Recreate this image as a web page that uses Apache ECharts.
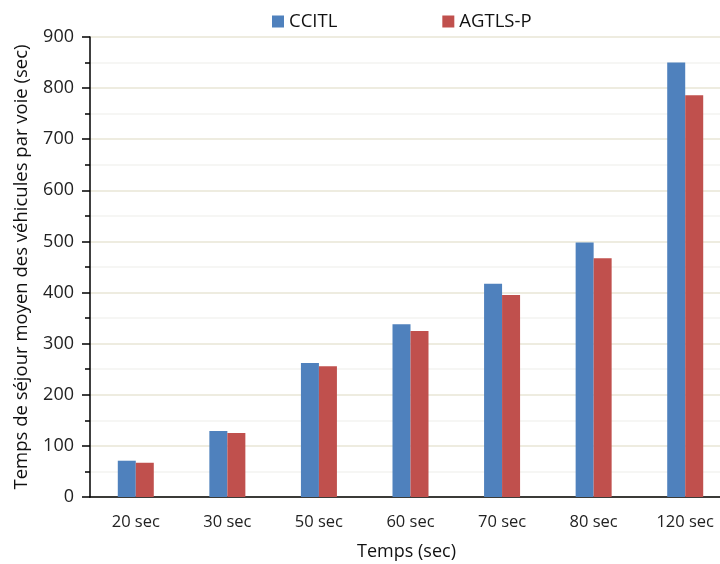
<!DOCTYPE html>
<html>
<head>
<meta charset="utf-8">
<script src="https://cdn.jsdelivr.net/npm/echarts@6/dist/echarts.min.js"></script>
<style>
  html, body { margin: 0; padding: 0; background: #fff; overflow: hidden; }
  #chart { width: 720px; height: 564px; }
</style>
</head>
<body>
<div id="chart"></div>
<script>
// Durations tested and mean per-lane vehicle sojourn time for each controller
const categories = ['20 sec', '30 sec', '50 sec', '60 sec', '70 sec', '80 sec', '120 sec'];
const ccitl = [71, 129, 262, 338, 417, 498, 850];
const agtlsP = [67, 125, 256, 325, 395, 467, 786];

const FONT = '"Open Sans", Lato, sans-serif';
const chart = echarts.init(document.getElementById('chart'));

chart.setOption({
  animation: false,
  textStyle: { fontFamily: FONT },
  legend: {
    top: 7,
    left: 267,
    itemWidth: 12,
    itemHeight: 12,
    itemGap: 105,
    icon: 'rect',
    textStyle: { fontSize: 18.5, color: '#111', fontFamily: FONT },
    data: ['CCITL', 'AGTLS-P']
  },
  // plot area runs slightly past the right edge of the canvas
  grid: { left: 90, top: 37, width: 641, height: 460, outerBoundsMode: 'none', containLabel: false },
  xAxis: {
    type: 'category',
    data: categories,
    name: 'Temps (sec)',
    nameLocation: 'middle',
    nameGap: 46,
    nameTextStyle: { fontSize: 18, color: '#111', fontFamily: FONT, padding: [0, 0, 0, -8] },
    axisLine: { lineStyle: { color: '#000', width: 1.5 } },
    axisTick: { show: false },
    axisLabel: { fontSize: 16.5, color: '#222', margin: 17, fontFamily: FONT }
  },
  yAxis: {
    type: 'value',
    min: 0,
    max: 900,
    interval: 100,
    name: 'Temps de séjour moyen des véhicules par voie (sec)',
    nameLocation: 'middle',
    nameGap: 59,
    nameTextStyle: { fontSize: 18.5, color: '#111', fontFamily: FONT },
    axisLine: { show: true, lineStyle: { color: '#000', width: 1.5 } },
    axisTick: { show: true, length: 8, lineStyle: { color: '#000', width: 1.5 } },
    minorTick: { show: true, splitNumber: 2, length: 5, lineStyle: { color: '#000', width: 1.5 } },
    axisLabel: { fontSize: 18, color: '#222', margin: 16, fontFamily: FONT },
    splitLine: { show: true, lineStyle: { color: '#E9E6D6', width: 1.5 } },
    minorSplitLine: { show: true, lineStyle: { color: '#F3F3F1', width: 1.5 } }
  },
  series: [
    {
      name: 'CCITL',
      type: 'bar',
      data: ccitl,
      barWidth: 18,
      barGap: '0%',
      itemStyle: { color: '#4F81BD' }
    },
    {
      name: 'AGTLS-P',
      type: 'bar',
      data: agtlsP,
      barWidth: 18,
      barGap: '0%',
      itemStyle: { color: '#C0504D' }
    }
  ]
});
</script>
</body>
</html>
